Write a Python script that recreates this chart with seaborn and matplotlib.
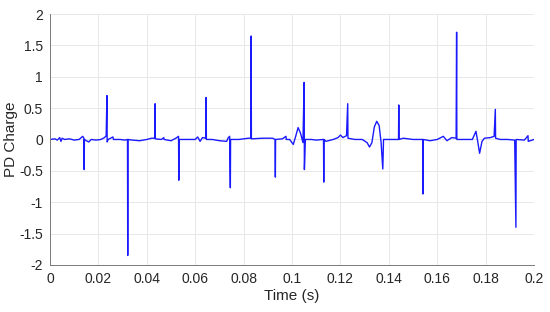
import matplotlib
matplotlib.use("Agg")
import matplotlib.pyplot as plt
import seaborn as sns
import numpy as np

# PD pulse record
time_s = [
    0.0000, 0.0020, 0.0030, 0.0040, 0.0045, 0.0050, 0.0060, 0.0080, 0.0100, 0.0120,
    0.0135, 0.0140, 0.0141, 0.0142, 0.0150, 0.0160, 0.0170, 0.0190, 0.0210, 0.0225,
    0.0232, 0.0235, 0.0236, 0.0240, 0.0260, 0.0262, 0.0290, 0.0310, 0.0320, 0.0321,
    0.0322, 0.0340, 0.0370, 0.0400, 0.0420, 0.0433, 0.0434, 0.0435, 0.0460, 0.0470,
    0.0471, 0.0500, 0.0520, 0.0531, 0.0532, 0.0533, 0.0560, 0.0600, 0.0610, 0.0620,
    0.0630, 0.0643, 0.0645, 0.0646, 0.0670, 0.0700, 0.0730, 0.0735, 0.0742, 0.0745,
    0.0746, 0.0780, 0.0820, 0.0830, 0.0831, 0.0832, 0.0880, 0.0920, 0.0930, 0.0931,
    0.0932, 0.0960, 0.0975, 0.0976, 0.0990, 0.1005, 0.1015, 0.1025, 0.1035, 0.1045,
    0.1050, 0.1051, 0.1055, 0.1080, 0.1100, 0.1130, 0.1131, 0.1132, 0.1140, 0.1170,
    0.1190, 0.1200, 0.1210, 0.1225, 0.1230, 0.1231, 0.1260, 0.1290, 0.1310, 0.1320,
    0.1330, 0.1340, 0.1350, 0.1360, 0.1368, 0.1375, 0.1378, 0.1400, 0.1440, 0.1441,
    0.1442, 0.1460, 0.1500, 0.1530, 0.1540, 0.1541, 0.1542, 0.1570, 0.1600, 0.1625,
    0.1640, 0.1660, 0.1678, 0.1680, 0.1681, 0.1720, 0.1745, 0.1760, 0.1768, 0.1775,
    0.1785, 0.1795, 0.1820, 0.1835, 0.1840, 0.1841, 0.1860, 0.1890, 0.1920, 0.1925,
    0.1926, 0.1960, 0.1975, 0.1976, 0.2000,
]
pd_charge = [
    0.00, 0.01, -0.01, 0.03, -0.03, 0.02, 0.00, 0.01, -0.01, 0.00,
    0.05, 0.02, -0.48, 0.00, -0.02, -0.04, 0.00, -0.01, 0.00, 0.03,
    0.06, 0.70, -0.04, 0.00, 0.04, 0.00, 0.00, -0.01, 0.00, -1.85,
    0.00, -0.01, -0.02, 0.00, 0.02, 0.02, 0.57, 0.01, 0.00, 0.03,
    0.00, -0.02, 0.02, 0.05, -0.65, 0.00, 0.00, 0.00, 0.04, -0.03,
    0.03, 0.02, 0.67, 0.00, 0.00, -0.02, -0.03, 0.02, 0.05, -0.77,
    0.00, 0.00, 0.02, 0.02, 1.65, 0.01, 0.02, 0.02, 0.00, -0.60,
    0.00, 0.01, 0.05, 0.00, 0.00, -0.08, 0.05, 0.19, 0.10, -0.05,
    0.91, -0.48, 0.00, 0.00, -0.01, 0.00, -0.68, 0.00, -0.03, 0.00,
    0.03, 0.07, 0.03, 0.06, 0.57, 0.02, 0.00, 0.00, -0.05, -0.12,
    -0.05, 0.20, 0.29, 0.22, -0.05, -0.47, 0.00, 0.00, 0.00, 0.55,
    0.00, 0.02, 0.00, 0.00, 0.00, -0.87, 0.00, -0.02, 0.00, 0.05,
    -0.02, 0.03, 0.02, 1.71, 0.00, 0.00, 0.00, 0.13, -0.05, -0.22,
    -0.03, 0.02, 0.03, 0.05, 0.48, 0.02, 0.00, 0.00, -0.01, -1.40,
    0.00, -0.01, 0.06, -0.03, 0.00,
]

x_ticks = [0, 0.02, 0.04, 0.06, 0.08, 0.1, 0.12, 0.14, 0.16, 0.18, 0.2]
x_labels = ["0", "0.02", "0.04", "0.06", "0.08", "0.1", "0.12", "0.14", "0.16", "0.18", "0.2"]
y_ticks = [-2, -1.5, -1, -0.5, 0, 0.5, 1, 1.5, 2]
y_labels = ["-2", "-1.5", "-1", "-0.5", "0", "0.5", "1", "1.5", "2"]

sns.set_style("whitegrid")
plt.rcParams['font.family'] = ['Liberation Sans', 'DejaVu Sans']

fig = plt.figure(figsize=(5.5, 3.12), dpi=100)
ax = fig.add_axes([0.091, 0.151, 0.880, 0.804])

sns.lineplot(x=np.array(time_s), y=np.array(pd_charge), estimator=None, sort=False,
             color="#1a1aff", linewidth=1.0, ax=ax)

ax.set_xlim(0, 0.2)
ax.set_ylim(-2, 2)
ax.set_xticks(x_ticks)
ax.set_xticklabels(x_labels)
ax.set_yticks(y_ticks)
ax.set_yticklabels(y_labels)
ax.set_xlabel("Time (s)", fontsize=11, color="#262626", labelpad=2)
ax.set_ylabel("PD Charge", fontsize=11, color="#262626", labelpad=1)
ax.tick_params(axis="both", labelsize=10, colors="#262626", direction="in",
               length=3, width=0.6, pad=5)
ax.grid(True, color="#e8e8e8", linewidth=0.7)
for side in ["top", "right"]:
    ax.spines[side].set_visible(False)
for side in ["left", "bottom"]:
    ax.spines[side].set_color("#7a7a7a")
    ax.spines[side].set_linewidth(0.7)

plt.savefig("out.png", dpi=100)
